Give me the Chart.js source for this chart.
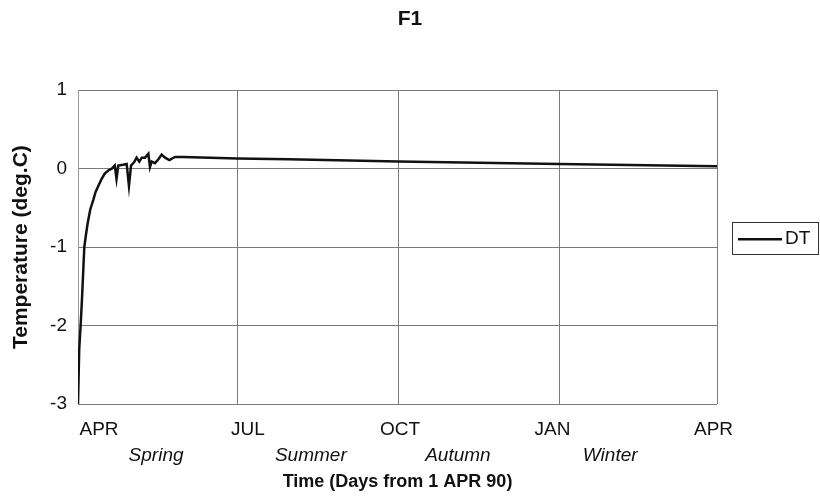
<!DOCTYPE html>
<html><head><meta charset="utf-8">
<script src="https://cdn.jsdelivr.net/npm/chart.js@4/dist/chart.umd.min.js"></script>
<style>html,body{margin:0;padding:0;background:#fff}#wrap{width:820px;height:502px}</style>
</head><body><div id="wrap"><canvas id="c" width="820" height="502"></canvas></div>
<script>
const titleText = 'F1';
const seriesLabel = 'DT';
const xTitle = 'Time (Days from 1 APR 90)';
const yTitle = 'Temperature (deg.C)';
const days  = [0, 0.7, 1.5, 2.3, 3.0, 3.6, 4.5, 5.5, 7, 8.7, 10, 11.6, 13.5, 15.4, 17.5, 19.3, 21, 22, 23, 25.7, 27.8, 29.1, 30.3, 32, 33.5, 35, 36.4, 38.3, 40.2, 41.1, 42.1, 44, 45.9, 47.8, 49.7, 52.2, 55.4, 60, 91, 120, 183, 275, 365];
const temps = [-3.0, -2.3, -2.0, -1.65, -1.3, -1.0, -0.85, -0.7, -0.52, -0.4, -0.3, -0.22, -0.13, -0.06, -0.02, 0.0, 0.04, -0.13, 0.04, 0.05, 0.06, -0.22, 0.04, 0.08, 0.14, 0.09, 0.14, 0.14, 0.19, 0.02, 0.09, 0.07, 0.12, 0.18, 0.14, 0.11, 0.15, 0.15, 0.13, 0.12, 0.09, 0.06, 0.03];
const monthTickDays = [0, 91, 183, 275, 365];
const monthLabelDays = [12, 97, 184, 271, 363];
const monthLabels = ['APR', 'JUL', 'OCT', 'JAN', 'APR'];
const seasonDays = [44.6, 133, 217, 304];
const seasonLabels = ['Spring', 'Summer', 'Autumn', 'Winter'];
const yTicks = [-3, -2, -1, 0, 1];

const FONT = "'Liberation Sans', Arial, sans-serif";
const gridColor = '#7a7a7a';

const boxLegend = {
  id: 'boxLegend',
  afterDraw(chart) {
    const {ctx, chartArea: a} = chart;
    const ds = chart.data.datasets[0];
    const x0 = a.right + 15, y0 = a.top + 132, w = 86, h = 32;
    ctx.save();
    ctx.strokeStyle = '#333';
    ctx.lineWidth = 1;
    ctx.strokeRect(Math.round(x0) + 0.5, Math.round(y0) + 0.5, w, h);
    const ym = y0 + h / 2 + 1;
    ctx.strokeStyle = ds.borderColor;
    ctx.lineWidth = ds.borderWidth;
    ctx.beginPath(); ctx.moveTo(x0 + 6, ym); ctx.lineTo(x0 + 50, ym); ctx.stroke();
    ctx.fillStyle = '#111';
    ctx.font = '19px ' + FONT;
    ctx.textBaseline = 'middle';
    ctx.textAlign = 'left';
    ctx.fillText(ds.label, x0 + 53, ym);
    ctx.restore();
  }
};

new Chart(document.getElementById('c'), {
  type: 'line',
  data: {
    datasets: [{
      label: seriesLabel,
      data: days.map((d, i) => ({x: d, y: temps[i]})),
      borderColor: '#111',
      borderWidth: 2.5,
      pointRadius: 0,
      tension: 0,
      fill: false
    }]
  },
  options: {
    responsive: false,
    devicePixelRatio: 1,
    animation: false,
    layout: {padding: 0},
    plugins: {
      legend: {display: false},
      tooltip: {enabled: false},
      title: {
        display: true, text: titleText, color: '#111',
        font: {family: FONT, size: 21, weight: 'bold'},
        padding: {top: 7, bottom: 58}
      }
    },
    scales: {
      x: {
        type: 'linear', position: 'bottom', weight: 0, min: 0, max: 365,
        afterBuildTicks: s => { s.ticks = monthTickDays.map(v => ({value: v})); },
        ticks: {display: false},
        grid: {color: gridColor, lineWidth: 1, drawTicks: false},
        border: {display: false},
        afterFit: s => { s.height = 0; }
      },
      xm: {
        type: 'linear', position: 'bottom', weight: 1, min: 0, max: 365,
        afterBuildTicks: s => { s.ticks = monthLabelDays.map(v => ({value: v})); },
        ticks: {
          callback: (v, i) => monthLabels[i],
          color: '#111', font: {family: FONT, size: 19},
          padding: 14, maxRotation: 0, autoSkip: false
        },
        grid: {display: false, drawTicks: false},
        border: {display: false},
        afterFit: s => { s.height = 37; }
      },
      xs: {
        type: 'linear', position: 'bottom', weight: 2, min: 0, max: 365,
        afterBuildTicks: s => { s.ticks = seasonDays.map(v => ({value: v})); },
        ticks: {
          callback: (v, i) => seasonLabels[i],
          color: '#111', font: {family: FONT, size: 19, style: 'italic'},
          padding: 3, maxRotation: 0, autoSkip: false
        },
        grid: {display: false, drawTicks: false},
        border: {display: false},
        title: {
          display: true, text: xTitle, color: '#111',
          font: {family: FONT, size: 18, weight: 'bold'},
          padding: {top: 4, bottom: 9}
        },
        afterFit: s => { s.height = 61; }
      },
      y: {
        type: 'linear', position: 'left', min: -3, max: 1,
        afterBuildTicks: s => { s.ticks = yTicks.map(v => ({value: v})); },
        ticks: {color: '#111', font: {family: FONT, size: 19}, padding: 11},
        grid: {color: gridColor, lineWidth: 1, drawTicks: false},
        border: {display: true, color: '#999'},
        title: {
          display: true, text: yTitle, color: '#111',
          font: {family: FONT, size: 21, weight: 'bold'},
          padding: {top: 9, bottom: 0}
        },
        afterFit: s => { s.width = 78; }
      },
      yr: {
        type: 'linear', position: 'right', min: -3, max: 1,
        ticks: {display: false},
        grid: {display: false, drawTicks: false},
        border: {display: false},
        afterFit: s => { s.width = 103; }
      }
    }
  },
  plugins: [boxLegend]
});
</script>
</body></html>
